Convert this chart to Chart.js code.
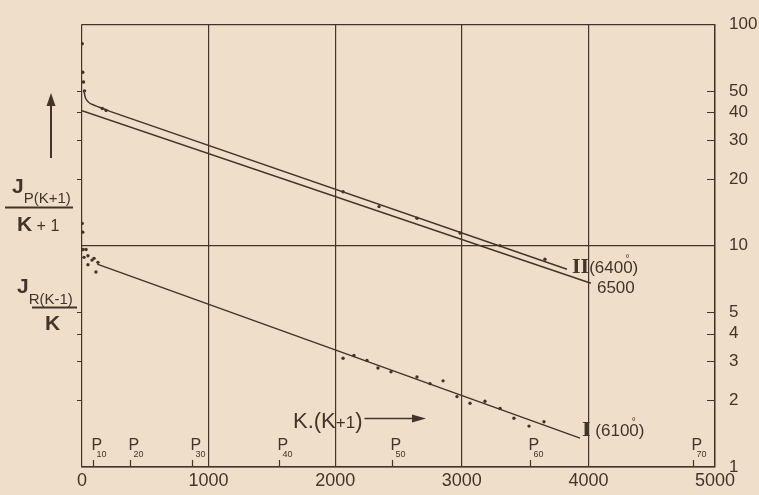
<!DOCTYPE html>
<html>
<head>
<meta charset="utf-8">
<script src="https://cdn.jsdelivr.net/npm/chart.js@4/dist/chart.umd.min.js"></script>
<style>
  html, body { margin: 0; padding: 0; background: #efdfca; }
  #wrap { width: 759px; height: 495px; }
</style>
</head>
<body>
<div id="wrap"><canvas id="c" width="759" height="495"></canvas></div>
<script>
// ---- data ----
const xTicks = [0, 1000, 2000, 3000, 4000, 5000];
const yTicks = [1, 2, 3, 4, 5, 10, 20, 30, 40, 50, 100];
const sideTicks = [2, 3, 4, 5, 20, 30, 40, 50];
const pLabels = ['10', '20', '30', '40', '50', '60', '70'];
const pPositions = [90, 380, 870, 1560, 2450, 3540, 4830];

// Series II (6400°) measured points
const seriesIIPointsK = [2, 6, 12, 20, 160, 190, 2062, 2346, 2646, 2986, 3302, 3657];
const seriesIIPointsV = [81.6, 60.7, 54.8, 50, 41.6, 40.8, 17.5, 15.0, 13.3, 11.4, 10.0, 8.67];
// Series II curved start
const seriesIICurveK = [16, 24, 47, 103, 166, 221];
const seriesIICurveV = [50, 47.1, 44.7, 42.9, 41.6, 40.4];
// Series II straight fit
const seriesIIFitK = [221, 3831];
const seriesIIFitV = [40.4, 7.82];
// 6500° line
const line6500K = [0, 4020];
const line6500V = [40.7, 6.76];
// Series I (6100°) points
const seriesIPointsK = [2, 6, 8, 32, 16, 47, 79, 95, 47, 110, 126,
  2062, 2148, 2251, 2338, 2441, 2646, 2749, 2852, 2962, 3065, 3183, 3302, 3412, 3531, 3649];
const seriesIPointsV = [12.6, 11.5, 9.6, 9.6, 8.85, 9.0, 8.6, 8.76, 8.2, 7.6, 8.4,
  3.10, 3.19, 3.03, 2.80, 2.69, 2.55, 2.38, 2.45, 2.08, 1.94, 1.98, 1.84, 1.66, 1.53, 1.60];
// Series I straight fit
const seriesIFitK = [120, 3934];
const seriesIFitV = [8.25, 1.35];

// ---- styling ----
const INK = '#433428';
const BG = '#efdfca';
const SANS = "'Liberation Sans', Arial, sans-serif";
const SERIF = "'Liberation Serif', 'DejaVu Serif', serif";

const pts = (k, v) => k.map((x, i) => ({ x: x, y: v[i] }));

function drawSeq(ctx, x, y, parts) {
  let cx = x;
  parts.forEach(([t, f, dy]) => {
    ctx.font = f;
    ctx.fillText(t, cx, y + (dy || 0));
    cx += ctx.measureText(t).width;
  });
  return cx;
}

const decor = {
  id: 'decor',
  beforeDraw(chart) {
    const c = chart.ctx;
    c.save();
    c.fillStyle = BG;
    c.fillRect(0, 0, chart.width, chart.height);
    c.restore();
  },
  afterDraw(chart) {
    const c = chart.ctx;
    const { x, y } = chart.scales;
    const a = chart.chartArea;
    c.save();
    c.strokeStyle = INK;
    c.fillStyle = INK;
    c.lineWidth = 1.2;
    sideTicks.forEach(v => {
      const py = Math.round(y.getPixelForValue(v)) + 0.5;
      c.beginPath();
      c.moveTo(a.left - 5, py); c.lineTo(a.left, py);
      c.moveTo(a.right - 8, py); c.lineTo(a.right, py);
      c.stroke();
    });
    c.textBaseline = 'alphabetic';
    c.textAlign = 'left';
    pPositions.forEach((k, i) => {
      const px = Math.round(x.getPixelForValue(k)) + 0.5;
      c.beginPath();
      c.moveTo(px, a.bottom); c.lineTo(px, a.bottom - 7);
      c.stroke();
      c.font = '16px ' + SANS;
      c.fillText('P', px - 2, a.bottom - 17);
      c.font = '9px ' + SANS;
      c.fillText(pLabels[i], px + 3, a.bottom - 10);
    });

    drawSeq(c, 12, 193, [['J', 'bold 21px ' + SANS], ['P(K+1)', '15px ' + SANS, 10]]);
    c.lineWidth = 2;
    c.beginPath(); c.moveTo(5, 207.5); c.lineTo(73, 207.5); c.stroke();
    drawSeq(c, 17, 231, [['K', 'bold 21px ' + SANS], [' + 1', '16px ' + SANS]]);

    drawSeq(c, 17, 293, [['J', 'bold 21px ' + SANS], ['R(K-1)', '15px ' + SANS, 11]]);
    c.beginPath(); c.moveTo(32, 307.5); c.lineTo(77, 307.5); c.stroke();
    drawSeq(c, 45, 330, [['K', 'bold 21px ' + SANS]]);

    c.lineWidth = 2;
    c.beginPath(); c.moveTo(51, 158); c.lineTo(51, 104); c.stroke();
    c.beginPath(); c.moveTo(51, 93); c.lineTo(46.5, 106); c.lineTo(55.5, 106); c.closePath(); c.fill();

    const endX = drawSeq(c, 293, 428, [['K.(K', '22px ' + SANS], ['+1', '17px ' + SANS], [')', '22px ' + SANS]]);
    c.lineWidth = 1.3;
    c.beginPath(); c.moveTo(endX + 2, 418.5); c.lineTo(418, 418.5); c.stroke();
    c.beginPath(); c.moveTo(426, 418.5); c.lineTo(412, 414.5); c.lineTo(412, 422.5); c.closePath(); c.fill();

    const iiX = x.getPixelForValue(seriesIIFitK[1]);
    const iiY = y.getPixelForValue(seriesIIFitV[1]);
    let ex = drawSeq(c, iiX + 5, iiY + 4, [['II', 'bold 22px ' + SERIF], ['(6400', '17px ' + SANS]]);
    c.font = '10px ' + SANS; c.fillText('°', ex - 7, iiY - 7);
    drawSeq(c, ex, iiY + 4, [[')', '17px ' + SANS]]);

    const sX = x.getPixelForValue(line6500K[1]);
    const sY = y.getPixelForValue(line6500V[1]);
    drawSeq(c, sX + 6, sY + 10, [['6500', '17px ' + SANS]]);

    const iX = x.getPixelForValue(seriesIFitK[1]);
    const iY = y.getPixelForValue(seriesIFitV[1]);
    ex = drawSeq(c, iX + 2, iY - 2, [['I', 'bold 22px ' + SERIF], [' (6100', '17px ' + SANS]]);
    c.font = '10px ' + SANS; c.fillText('°', ex - 7, iY - 13);
    drawSeq(c, ex, iY - 2, [[')', '17px ' + SANS]]);

    c.restore();
  }
};

const lineDS = (k, v, extra) => Object.assign({
  data: pts(k, v), showLine: true, pointRadius: 0, borderColor: INK,
  borderWidth: 1.5, backgroundColor: INK, fill: false
}, extra || {});
const pointDS = (k, v) => ({
  data: pts(k, v), showLine: false, pointRadius: 1.7, pointBorderWidth: 0,
  backgroundColor: INK, borderColor: INK
});

new Chart(document.getElementById('c'), {
  type: 'scatter',
  data: {
    datasets: [
      pointDS(seriesIIPointsK, seriesIIPointsV),
      lineDS(seriesIICurveK, seriesIICurveV, { cubicInterpolationMode: 'monotone' }),
      lineDS(seriesIIFitK, seriesIIFitV),
      lineDS(line6500K, line6500V),
      pointDS(seriesIPointsK, seriesIPointsV),
      lineDS(seriesIFitK, seriesIFitV)
    ]
  },
  options: {
    responsive: false,
    devicePixelRatio: 1,
    animation: false,
    layout: { padding: { left: 82, top: 14, right: 0, bottom: 0 } },
    plugins: { legend: { display: false }, tooltip: { enabled: false } },
    scales: {
      x: {
        type: 'linear', min: 0, max: 5000,
        afterBuildTicks: s => { s.ticks = xTicks.map(v => ({ value: v })); },
        afterFit: s => { s.height = 28; },
        grid: { color: INK, lineWidth: 1.2, drawTicks: false },
        border: { color: INK, width: 1.4 },
        ticks: { color: INK, font: { family: SANS, size: 18 }, padding: 3, maxRotation: 0, autoSkip: false,
                 callback: v => String(v) }
      },
      y: {
        type: 'logarithmic', position: 'right', min: 1, max: 100,
        afterBuildTicks: s => { s.ticks = yTicks.map(v => ({ value: v })); },
        afterFit: s => { s.width = 44; },
        grid: {
          drawTicks: false, lineWidth: 1.2,
          color: c => ([1, 10, 100].includes(c.tick && c.tick.value) ? INK : 'rgba(0,0,0,0)')
        },
        border: { color: INK, width: 1.4 },
        ticks: { color: INK, font: { family: SANS, size: 17 }, padding: 14, autoSkip: false,
                 callback: v => String(v) }
      }
    }
  },
  plugins: [decor]
});
</script>
</body>
</html>
